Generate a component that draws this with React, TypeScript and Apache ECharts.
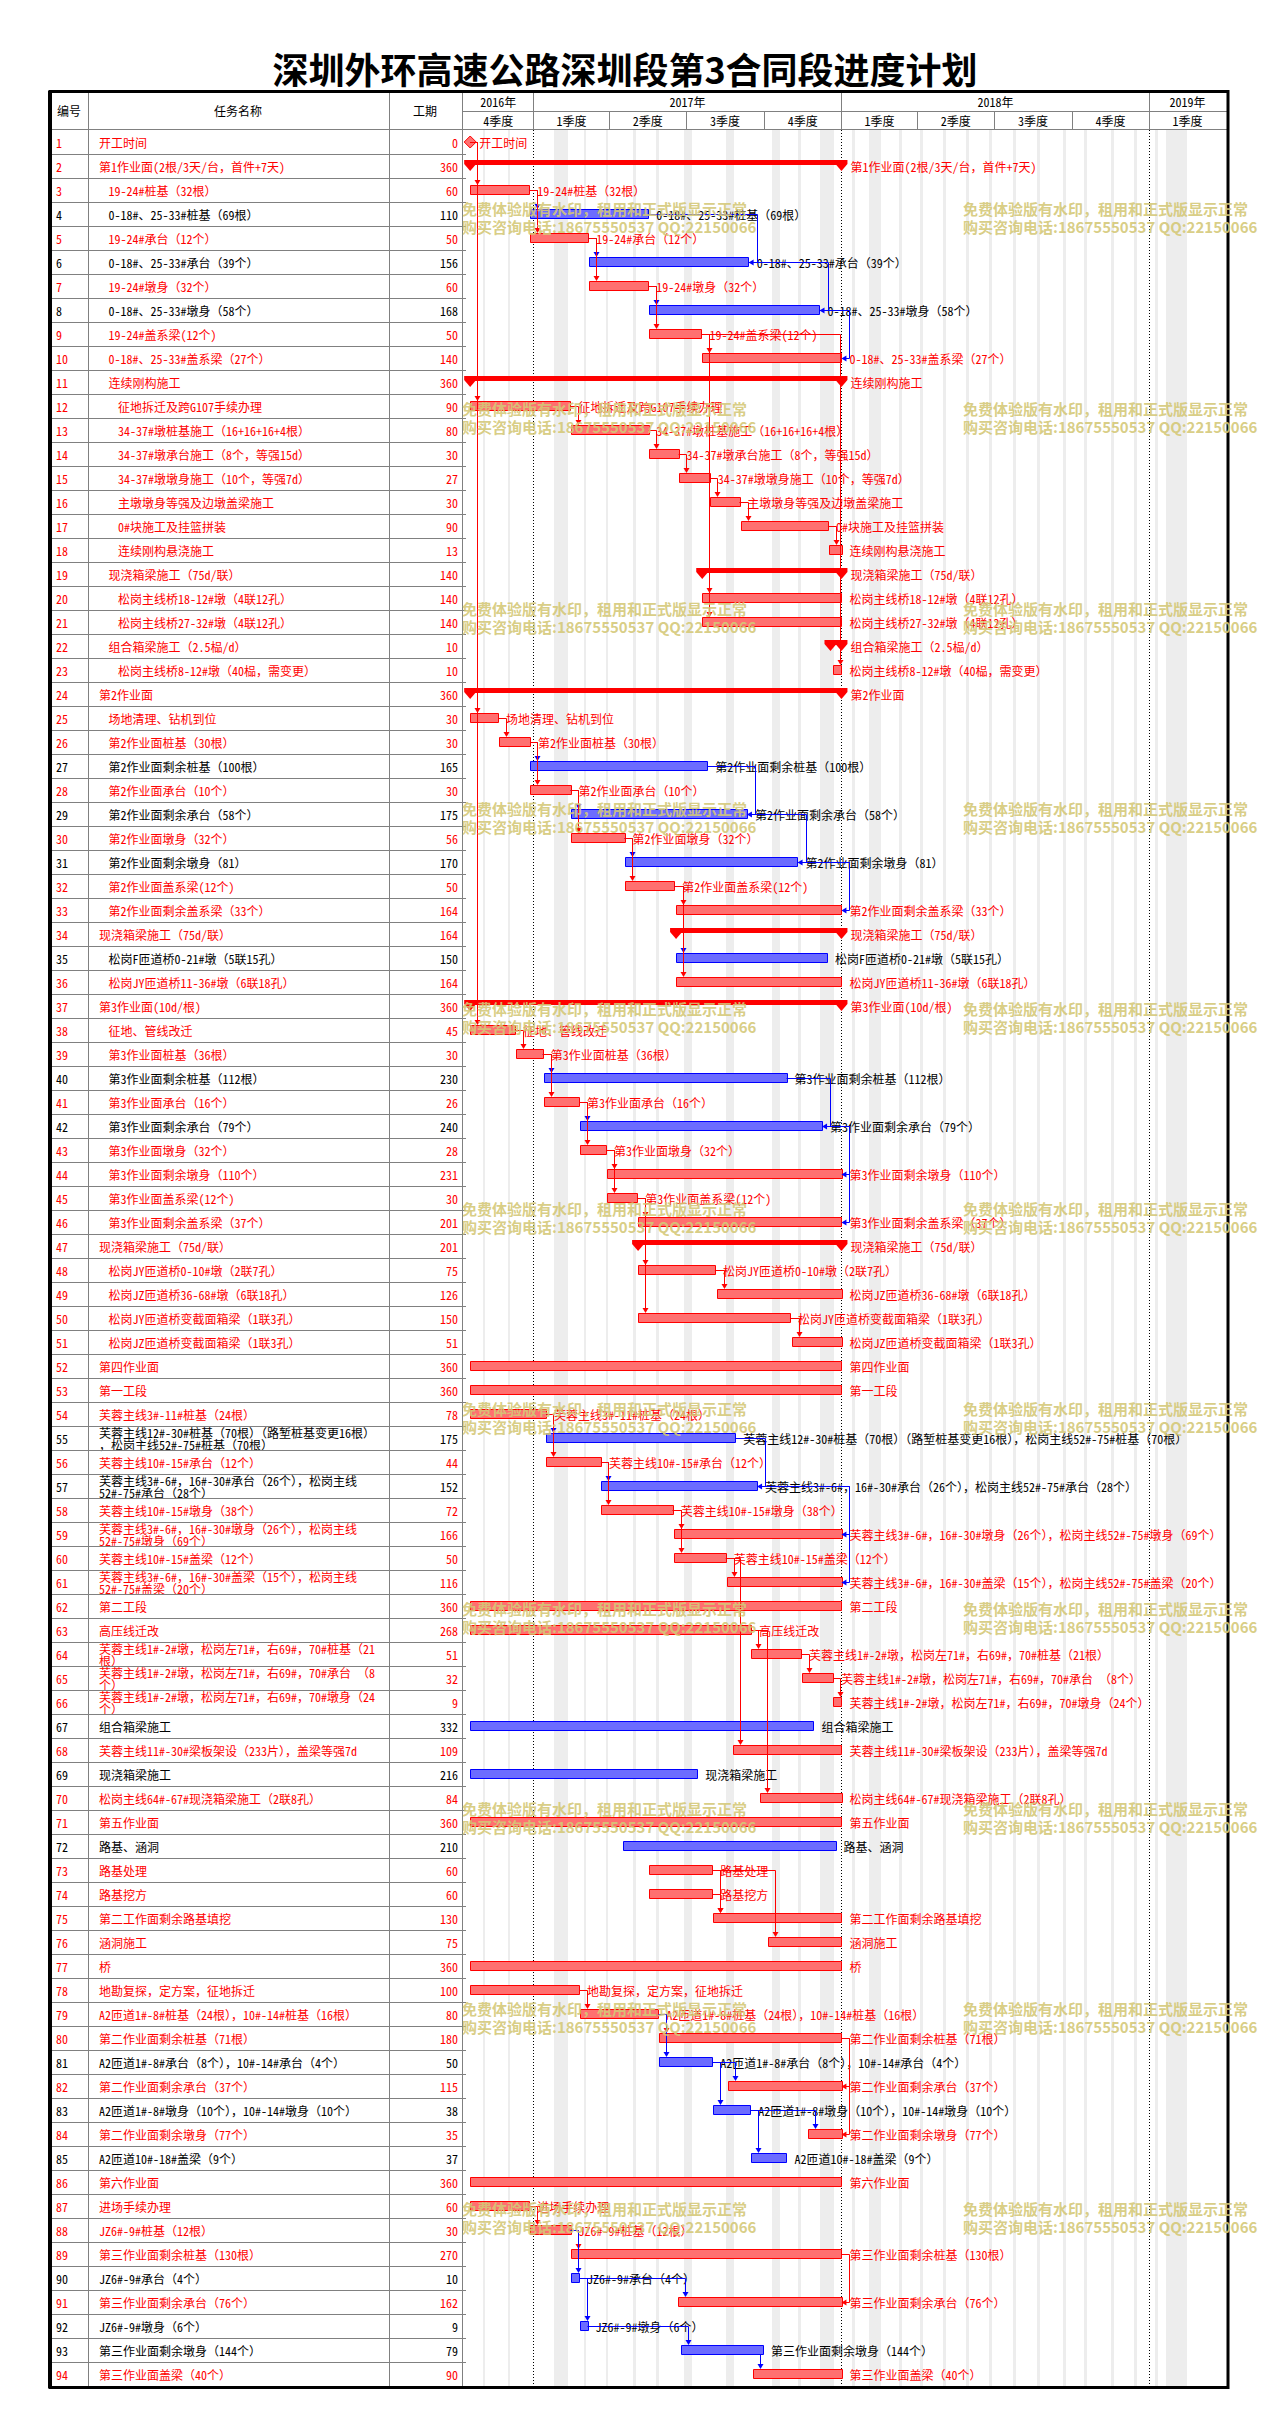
import React, { useEffect, useRef } from 'react';
import * as echarts from 'echarts';

// ---------------- DATA ----------------
const taskNames: string[] = [
  '开工时间', '第1作业面(2根/3天/台，首件+7天)', '19-24#桩基（32根）', '0-18#、25-33#桩基（69根）', '19-24#承台（12个）',
  '0-18#、25-33#承台（39个）', '19-24#墩身（32个）', '0-18#、25-33#墩身（58个）', '19-24#盖系梁(12个)', '0-18#、25-33#盖系梁（27个）',
  '连续刚构施工', '征地拆迁及跨G107手续办理', '34-37#墩桩基施工（16+16+16+4根）', '34-37#墩承台施工（8个，等强15d）', '34-37#墩墩身施工（10个，等强7d）',
  '主墩墩身等强及边墩盖梁施工', '0#块施工及挂篮拼装', '连续刚构悬浇施工', '现浇箱梁施工（75d/联）', '松岗主线桥18-12#墩（4联12孔）',
  '松岗主线桥27-32#墩（4联12孔）', '组合箱梁施工（2.5榀/d）', '松岗主线桥8-12#墩（40榀，需变更）', '第2作业面', '场地清理、钻机到位',
  '第2作业面桩基（30根）', '第2作业面剩余桩基（100根）', '第2作业面承台（10个）', '第2作业面剩余承台（58个）', '第2作业面墩身（32个）',
  '第2作业面剩余墩身（81）', '第2作业面盖系梁(12个)', '第2作业面剩余盖系梁（33个）', '现浇箱梁施工（75d/联）', '松岗F匝道桥0-21#墩（5联15孔）',
  '松岗JY匝道桥11-36#墩（6联18孔）', '第3作业面(10d/根)', '征地、管线改迁', '第3作业面桩基（36根）', '第3作业面剩余桩基（112根）',
  '第3作业面承台（16个）', '第3作业面剩余承台（79个）', '第3作业面墩身（32个）', '第3作业面剩余墩身（110个）', '第3作业面盖系梁(12个)',
  '第3作业面剩余盖系梁（37个）', '现浇箱梁施工（75d/联）', '松岗JY匝道桥0-10#墩（2联7孔）', '松岗JZ匝道桥36-68#墩（6联18孔）', '松岗JY匝道桥变截面箱梁（1联3孔）',
  '松岗JZ匝道桥变截面箱梁（1联3孔）', '第四作业面', '第一工段', '芙蓉主线3#-11#桩基（24根）', '芙蓉主线12#-30#桩基（70根）（路堑桩基变更16根），松岗主线52#-75#桩基（70根）',
  '芙蓉主线10#-15#承台（12个）', '芙蓉主线3#-6#，16#-30#承台（26个），松岗主线52#-75#承台（28个）', '芙蓉主线10#-15#墩身（38个）', '芙蓉主线3#-6#，16#-30#墩身（26个），松岗主线52#-75#墩身（69个）', '芙蓉主线10#-15#盖梁（12个）',
  '芙蓉主线3#-6#，16#-30#盖梁（15个），松岗主线52#-75#盖梁（20个）', '第二工段', '高压线迁改', '芙蓉主线1#-2#墩，松岗左71#，右69#，70#桩基（21根）', '芙蓉主线1#-2#墩，松岗左71#，右69#，70#承台 （8个）',
  '芙蓉主线1#-2#墩，松岗左71#，右69#，70#墩身（24个）', '组合箱梁施工', '芙蓉主线11#-30#梁板架设（233片），盖梁等强7d', '现浇箱梁施工', '松岗主线64#-67#现浇箱梁施工（2联8孔）',
  '第五作业面', '路基、涵洞', '路基处理', '路基挖方', '第二工作面剩余路基填挖',
  '涵洞施工', '桥', '地勘复探，定方案，征地拆迁', 'A2匝道1#-8#桩基（24根），10#-14#桩基（16根）', '第二作业面剩余桩基（71根）',
  'A2匝道1#-8#承台（8个），10#-14#承台（4个）', '第二作业面剩余承台（37个）', 'A2匝道1#-8#墩身（10个），10#-14#墩身（10个）', '第二作业面剩余墩身（77个）', 'A2匝道10#-18#盖梁（9个）',
  '第六作业面', '进场手续办理', 'JZ6#-9#桩基（12根）', '第三作业面剩余桩基（130根）', 'JZ6#-9#承台（4个）',
  '第三作业面剩余承台（76个）', 'JZ6#-9#墩身（6个）', '第三作业面剩余墩身（144个）', '第三作业面盖梁（40个）',
];

const durations: number[] = [
  0, 360, 60, 110, 50, 156, 60, 168, 50, 140,
  360, 90, 80, 30, 27, 30, 90, 13, 140, 140,
  140, 10, 10, 360, 30, 30, 165, 30, 175, 56,
  170, 50, 164, 164, 150, 164, 360, 45, 30, 230,
  26, 240, 28, 231, 30, 201, 201, 75, 126, 150,
  51, 360, 360, 78, 175, 44, 152, 72, 166, 50,
  116, 360, 268, 51, 32, 9, 332, 109, 216, 84,
  360, 210, 60, 60, 130, 75, 360, 100, 80, 180,
  50, 115, 38, 35, 37, 360, 60, 30, 270, 10,
  162, 9, 79, 90,
];

const outlineLevel: number[] = [
  0, 0, 1, 1, 1, 1, 1, 1, 1, 1,
  1, 2, 2, 2, 2, 2, 2, 2, 1, 2,
  2, 1, 2, 0, 1, 1, 1, 1, 1, 1,
  1, 1, 1, 0, 1, 1, 0, 1, 1, 1,
  1, 1, 1, 1, 1, 1, 0, 1, 1, 1,
  1, 0, 0, 0, 0, 0, 0, 0, 0, 0,
  0, 0, 0, 0, 0, 0, 0, 0, 0, 0,
  0, 0, 0, 0, 0, 0, 0, 0, 0, 0,
  0, 0, 0, 0, 0, 0, 0, 0, 0, 0,
  0, 0, 0, 0,
];

// m = milestone, s = summary, t = task
const taskKind: string[] = [
  'm', 's', 't', 't', 't', 't', 't', 't', 't', 't',
  's', 't', 't', 't', 't', 't', 't', 't', 's', 't',
  't', 's', 't', 's', 't', 't', 't', 't', 't', 't',
  't', 't', 't', 's', 't', 't', 's', 't', 't', 't',
  't', 't', 't', 't', 't', 't', 's', 't', 't', 't',
  't', 't', 't', 't', 't', 't', 't', 't', 't', 't',
  't', 't', 't', 't', 't', 't', 't', 't', 't', 't',
  't', 't', 't', 't', 't', 't', 't', 't', 't', 't',
  't', 't', 't', 't', 't', 't', 't', 't', 't', 't',
  't', 't', 't', 't',
];

// 1 = critical (red), 0 = normal (blue)
const isCritical: number[] = [
  1, 1, 1, 0, 1, 0, 1, 0, 1, 1,
  1, 1, 1, 1, 1, 1, 1, 1, 1, 1,
  1, 1, 1, 1, 1, 1, 0, 1, 0, 1,
  0, 1, 1, 1, 0, 1, 1, 1, 1, 0,
  1, 0, 1, 1, 1, 1, 1, 1, 1, 1,
  1, 1, 1, 1, 0, 1, 0, 1, 1, 1,
  1, 1, 1, 1, 1, 1, 0, 1, 0, 1,
  1, 0, 1, 1, 1, 1, 1, 1, 1, 1,
  0, 1, 0, 1, 0, 1, 1, 1, 1, 0,
  1, 0, 0, 1,
];

// days counted from 2017-01-01
const startDay: number[] = [
  -75, -75, -75, -4, -4, 66, 66, 137, 137, 200,
  -75, -75, 44, 137, 172, 209, 246, 350, 200, 200,
  200, 352, 355, -75, -75, -41, -4, -4, 44, 44,
  109, 109, 169, 169, 169, 169, -75, -75, -21, 12,
  12, 55, 55, 87, 87, 124, 124, 124, 217, 124,
  306, -75, -75, -75, 15, 15, 80, 80, 166, 166,
  229, -75, -75, 258, 318, 355, -75, 237, -75, 268,
  -75, 106, 137, 137, 213, 278, -75, -75, 55, 149,
  149, 230, 213, 325, 258, -75, -75, -4, 45, 45,
  171, 55, 175, 260,
];

const finishDay: number[] = [
  -75, 365, -5, 136, 65, 255, 136, 339, 199, 365,
  365, 44, 136, 172, 209, 244, 349, 365, 365, 365,
  365, 365, 365, 365, -42, -4, 206, 44, 253, 108,
  313, 167, 365, 365, 348, 365, 365, -22, 11, 300,
  54, 342, 86, 365, 123, 365, 365, 215, 365, 304,
  365, 365, 365, 15, 239, 80, 265, 165, 365, 228,
  365, 365, 258, 317, 355, 365, 332, 365, 194, 365,
  365, 358, 212, 212, 365, 365, 365, 54, 148, 365,
  212, 365, 257, 365, 300, 365, -5, 44, 365, 54,
  365, 64, 272, 365,
];

// predecessor id, successor id, link type
const linkPairs: [number, number, string][] = [
  [1, 3, 'FS'], [1, 12, 'FS'], [1, 25, 'FS'], [1, 38, 'FS'],
  [3, 4, 'FS'], [3, 5, 'FS'], [4, 6, 'FF'], [5, 6, 'FS'], [5, 7, 'FS'], [6, 8, 'FF'], [7, 8, 'FS'], [7, 9, 'FS'],
  [8, 10, 'FF'], [9, 10, 'FS'], [9, 20, 'FS'], [9, 21, 'FS'], [9, 23, 'FS'],
  [12, 13, 'FS'], [13, 14, 'FS'], [14, 15, 'FS'], [15, 16, 'FS'], [16, 17, 'FS'], [17, 18, 'FS'],
  [25, 26, 'FS'], [26, 27, 'FS'], [26, 28, 'FS'], [27, 29, 'FF'], [28, 29, 'FS'], [28, 30, 'FS'], [29, 31, 'FF'],
  [30, 31, 'FS'], [30, 32, 'FS'], [31, 33, 'FF'], [32, 33, 'FS'], [32, 35, 'FS'], [32, 36, 'FS'],
  [38, 39, 'FS'], [39, 40, 'FS'], [39, 41, 'FS'], [40, 42, 'FF'], [41, 42, 'FS'], [41, 43, 'FS'], [42, 44, 'FF'],
  [42, 46, 'FF'], [43, 44, 'FS'], [43, 45, 'FS'], [45, 46, 'FS'], [45, 48, 'FS'], [45, 50, 'FS'], [48, 49, 'FS'], [50, 51, 'FS'],
  [54, 55, 'FS'], [54, 56, 'FS'], [55, 57, 'FF'], [56, 57, 'FS'], [56, 58, 'FS'], [57, 59, 'FF'], [57, 61, 'FF'],
  [58, 59, 'FS'], [58, 60, 'FS'], [60, 61, 'FS'], [60, 68, 'FS'],
  [63, 64, 'FS'], [63, 70, 'FS'], [64, 65, 'FS'], [65, 66, 'FS'],
  [73, 75, 'FS'], [74, 75, 'FS'], [73, 76, 'FS'],
  [78, 79, 'FS'], [79, 80, 'FS'], [79, 81, 'FS'], [80, 82, 'FF'], [80, 84, 'FF'], [81, 82, 'FS'], [81, 83, 'FS'], [83, 84, 'FS'], [83, 85, 'FS'],
  [87, 88, 'FS'], [88, 89, 'FS'], [88, 90, 'FS'], [89, 91, 'FF'], [90, 91, 'FS'], [90, 92, 'FS'], [92, 93, 'FS'], [93, 94, 'FS'],
];

const yearLabels: string[] = ['2016年', '2017年', '2018年', '2019年'];
const yearStart: number[] = [-92, 0, 365, 730];
const yearEnd: number[] = [0, 365, 730, 820];

const quarterLabels: string[] = ['4季度', '1季度', '2季度', '3季度', '4季度', '1季度', '2季度', '3季度', '4季度', '1季度'];
const quarterStart: number[] = [-92, 0, 90, 181, 273, 365, 455, 546, 638, 730];
const quarterEnd: number[] = [0, 90, 181, 273, 365, 455, 546, 638, 730, 820];

const yearLineDays: number[] = [0, 365, 730];

// non-working periods (shaded stripes), days from 2017-01-01
const nonWorkStart: number[] = [-60, -30, 24, 60, 86, 118, 145, 178, 228, 283, 313, 340, 377, 398, 433, 458, 485, 513, 540, 568, 597, 627, 653, 685, 712, 737, 750];
const nonWorkEnd: number[] = [-58, -28, 40, 62, 88, 121, 148, 188, 238, 293, 316, 357, 380, 412, 436, 462, 488, 517, 543, 572, 601, 631, 657, 689, 715, 741, 775];

const titleText = '深圳外环高速公路深圳段第3合同段进度计划';
const watermarkLine1 = '免费体验版有水印，租用和正式版显示正常';
const watermarkLine2 = '购买咨询电话:18675550537 QQ:22150066';

// ---------------- STYLE ----------------
const RED = '#ff0000';
const BLUE = '#0000ff';
const GRAY = '#808080';
const FAMILY = "'Noto Sans Mono CJK SC', 'Noto Sans CJK SC', sans-serif";
const FONT = `12px ${FAMILY}`;
const X_MIN = -83.5;
const X_MAX = 823.1;
const GRID_LEFT = 463;
const GRID_TOP = 130;
const GRID_W = 765;
const ROW_H = 24;
const N = taskNames.length;
const GRID_H = N * ROW_H;

const crisp = (v: number) => Math.round(v) + 0.5;

function txt(text: string, x: number, y: number, fill: string, align: string, extra: any = {}) {
  return {
    type: 'text',
    style: Object.assign({ text, x, y, fill, font: FONT, textAlign: align, textVerticalAlign: 'middle' }, extra),
  };
}

function App() {
  const ref = useRef<HTMLDivElement>(null);

  useEffect(() => {
    const chart = echarts.init(ref.current as HTMLDivElement, null, { renderer: 'svg' });
    const rows = taskNames.map((_, i) => [i, i]);

    const tableSeries = {
      type: 'custom', name: 'table', z: 2, clip: false, silent: true,
      data: rows,
      renderItem: (params: any, api: any) => {
        const i = api.value(1);
        const y = api.coord([0, i])[1];
        const color = isCritical[i] ? RED : '#000000';
        const lvl = outlineLevel[i];
        const bottom = crisp(y + ROW_H / 2);
        return {
          type: 'group',
          children: [
            txt(String(i + 1), 56, y, color, 'left'),
            txt(taskNames[i], 99 + lvl * 9.5, y, color, 'left', { width: 286 - lvl * 9.5, overflow: 'break', lineHeight: 12 }),
            txt(String(durations[i]), 458, y, color, 'right'),
            { type: 'line', shape: { x1: 50, y1: bottom, x2: 466, y2: bottom }, style: { stroke: GRAY, lineWidth: 1 } },
          ],
        };
      },
    };

    const calendarSeries = {
      type: 'custom', name: 'nonwork', z: 1, clip: false, silent: true,
      data: nonWorkStart.map((_, k) => [k, 0]),
      renderItem: (params: any, api: any) => {
        const k = api.value(0);
        const cs = params.coordSys;
        const x1 = api.coord([nonWorkStart[k], 0])[0];
        const x2 = api.coord([nonWorkEnd[k], 0])[0];
        return {
          type: 'rect',
          shape: { x: Math.round(x1), y: cs.y, width: Math.max(1, Math.round(x2 - x1)), height: cs.height },
          style: { fill: '#ededed' },
        };
      },
    };

    const yearLineSeries = {
      type: 'custom', name: 'yearlines', z: 1, clip: false, silent: true,
      data: yearLineDays.map((_, k) => [k, 0]),
      renderItem: (params: any, api: any) => {
        const k = api.value(0);
        const cs = params.coordSys;
        const x = crisp(api.coord([yearLineDays[k], 0])[0]);
        return {
          type: 'line',
          shape: { x1: x, y1: cs.y, x2: x, y2: cs.y + cs.height },
          style: { stroke: '#000000', lineWidth: 1, lineDash: [1, 2] },
        };
      },
    };

    const yearHeaderSeries = {
      type: 'custom', name: 'years', z: 2, clip: false, silent: true,
      data: yearLabels.map((_, k) => [k, 0]),
      renderItem: (params: any, api: any) => {
        const k = api.value(0);
        const cs = params.coordSys;
        const x1 = Math.max(cs.x, api.coord([yearStart[k], 0])[0]);
        const x2 = Math.min(cs.x + cs.width, api.coord([yearEnd[k], 0])[0]);
        const top = cs.y - 39;
        const children: any[] = [txt(yearLabels[k], (x1 + x2) / 2, top + 10.5, '#000000', 'center')];
        if (k > 0) children.push({ type: 'line', shape: { x1: crisp(x1), y1: top, x2: crisp(x1), y2: top + 20 }, style: { stroke: GRAY, lineWidth: 1 } });
        return { type: 'group', children };
      },
    };

    const quarterHeaderSeries = {
      type: 'custom', name: 'quarters', z: 2, clip: false, silent: true,
      data: quarterLabels.map((_, k) => [k, 0]),
      renderItem: (params: any, api: any) => {
        const k = api.value(0);
        const cs = params.coordSys;
        const x1 = Math.max(cs.x, api.coord([quarterStart[k], 0])[0]);
        const x2 = Math.min(cs.x + cs.width, api.coord([quarterEnd[k], 0])[0]);
        const top = cs.y - 19;
        const children: any[] = [txt(quarterLabels[k], (x1 + x2) / 2, top + 9.5, '#000000', 'center')];
        if (k > 0) children.push({ type: 'line', shape: { x1: crisp(x1), y1: top, x2: crisp(x1), y2: cs.y }, style: { stroke: GRAY, lineWidth: 1 } });
        return { type: 'group', children };
      },
    };

    const barSeries = {
      type: 'custom', name: 'bars', z: 4, clip: false, silent: true,
      data: rows,
      renderItem: (params: any, api: any) => {
        const i = api.value(1);
        const p1 = api.coord([startDay[i], i]);
        const x1 = p1[0];
        const y = p1[1];
        const x2 = api.coord([finishDay[i], i])[0];
        const crit = isCritical[i] === 1;
        const stroke = crit ? RED : BLUE;
        const fill = crit ? '#ff7070' : '#6c6cff';
        const labelColor = crit ? RED : '#000000';
        const kind = taskKind[i];
        const children: any[] = [];
        let labelX = x2 + 8;
        if (kind === 'm') {
          children.push({
            type: 'polygon',
            shape: { points: [[x1, y - 6], [x1 + 6, y], [x1, y + 6], [x1 - 6, y]] },
            style: { fill: '#ff7070', stroke: RED, lineWidth: 1 },
          });
          labelX = x1 + 9;
        } else if (kind === 's') {
          children.push({ type: 'rect', shape: { x: x1, y: y - 6, width: x2 - x1, height: 5 }, style: { fill: RED } });
          [x1, x2].forEach((x) => {
            children.push({
              type: 'polygon',
              shape: { points: [[x - 6, y - 6], [x + 6, y - 6], [x + 6, y - 2], [x, y + 5], [x - 6, y - 2]] },
              style: { fill: RED },
            });
          });
          labelX = x2 + 9;
        } else {
          children.push({
            type: 'rect',
            shape: { x: Math.round(x1) + 0.5, y: Math.round(y - 5) + 0.5, width: Math.max(2, Math.round(x2 - x1)), height: 9 },
            style: { fill, stroke, lineWidth: 1 },
          });
        }
        children.push(txt(taskNames[i], labelX, y, labelColor, 'left'));
        return { type: 'group', children };
      },
    };

    const linkSeries = {
      type: 'custom', name: 'links', z: 5, clip: false, silent: true,
      data: linkPairs.map((_, k) => [k, 0]),
      renderItem: (params: any, api: any) => {
        const k = api.value(0);
        const [p, s, t] = linkPairs[k];
        const pi = p - 1;
        const si = s - 1;
        const yP = api.coord([0, pi])[1];
        const yS = api.coord([0, si])[1];
        const pEnd = api.coord([finishDay[pi], pi])[0];
        const sStart = api.coord([startDay[si], si])[0];
        const sEnd = api.coord([finishDay[si], si])[0];
        const color = isCritical[pi] && isCritical[si] ? RED : BLUE;
        const style = { stroke: color, lineWidth: 1, fill: 'none' };
        let pts: number[][];
        let arrow: number[][];
        if (t === 'FS') {
          const tip = yS - 5;
          if (pEnd > sStart + 7) {
            const xv = crisp(sStart + 7);
            pts = [[xv, yP + 4], [xv, tip - 4]];
            arrow = [[xv - 3, tip - 5], [xv + 3, tip - 5], [xv, tip]];
          } else {
            const xv = crisp(Math.max(pEnd, sStart) + 7);
            const yy = crisp(yP);
            pts = [[pEnd, yy], [xv, yy], [xv, tip - 4]];
            arrow = [[xv - 3, tip - 5], [xv + 3, tip - 5], [xv, tip]];
          }
        } else {
          const xv = crisp(Math.max(pEnd, sEnd) + 8);
          const yy = crisp(yP);
          const ys = crisp(yS);
          pts = [[pEnd, yy], [xv, yy], [xv, ys], [sEnd + 4, ys]];
          arrow = [[sEnd + 5, ys - 3], [sEnd + 5, ys + 3], [sEnd, ys]];
        }
        return {
          type: 'group',
          children: [
            { type: 'polyline', shape: { points: pts }, style },
            { type: 'polygon', shape: { points: arrow }, style: { fill: color } },
          ],
        };
      },
    };

    const tableBottom = GRID_TOP + GRID_H;
    const gLine = (x1: number, y1: number, x2: number, y2: number, stroke: string, lw = 1, z = 40) => ({
      type: 'line', z, silent: true, shape: { x1, y1, x2, y2 }, style: { stroke, lineWidth: lw },
    });
    const gText = (text: string, x: number, y: number, font: string, fill: string, align: string, z = 40) => ({
      type: 'text', z, silent: true, x, y,
      style: { text, font, fill, textAlign: align, textVerticalAlign: 'middle' },
    });

    const watermarks: any[] = [];
    for (let k = 0; k < 11; k++) {
      const wy = 208 + k * 200;
      [462, 963].forEach((wx) => {
        watermarks.push(gText(watermarkLine1, wx, wy, `bold 15px 'Noto Sans CJK SC', sans-serif`, 'rgba(212,200,118,0.9)', 'left', 100));
        watermarks.push(gText(watermarkLine2, wx, wy + 18, `bold 15px 'Noto Sans CJK SC', sans-serif`, 'rgba(212,200,118,0.9)', 'left', 100));
      });
    }

    const graphicElements: any[] = [
      gText(titleText, 625, 68, `bold 36px 'Noto Sans CJK SC', sans-serif`, '#000000', 'center'),
      gText('编号', 69, 110.5, FONT, '#000000', 'center'),
      gText('任务名称', 238, 110.5, FONT, '#000000', 'center'),
      gText('工期', 425, 110.5, FONT, '#000000', 'center'),
      gLine(GRID_LEFT, 111.5, GRID_LEFT + GRID_W, 111.5, GRAY),
      gLine(50, 129.5, GRID_LEFT + GRID_W, 129.5, GRAY),
      gLine(88.5, 91, 88.5, tableBottom, GRAY),
      gLine(389.5, 91, 389.5, tableBottom, GRAY),
      gLine(462.5, 91, 462.5, tableBottom, GRAY),
      {
        type: 'rect', z: 50, silent: true,
        shape: { x: 50, y: 91.5, width: 1178, height: tableBottom - 90 },
        style: { fill: 'none', stroke: '#000000', lineWidth: 3 },
      },
      gLine(50, 91, 50, tableBottom + 2, '#000000', 4, 50),
      ...watermarks,
    ];

    const option: any = {
      animation: false,
      backgroundColor: '#ffffff',
      grid: { left: GRID_LEFT, top: GRID_TOP, width: GRID_W, height: GRID_H, containLabel: false },
      xAxis: { type: 'value', min: X_MIN, max: X_MAX, show: false, splitLine: { show: false } },
      yAxis: { type: 'category', data: taskNames.map((_, i) => String(i + 1)), inverse: true, show: false },
      graphic: { elements: graphicElements },
      series: [calendarSeries, yearLineSeries, tableSeries, yearHeaderSeries, quarterHeaderSeries, barSeries, linkSeries],
    };

    chart.setOption(option);
    return () => chart.dispose();
  }, []);

  return (
    <div
      ref={ref}
      style={{ position: 'absolute', left: 0, top: 0, width: 1280, height: 2435, background: '#ffffff' }}
    />
  );
}

export default App;
